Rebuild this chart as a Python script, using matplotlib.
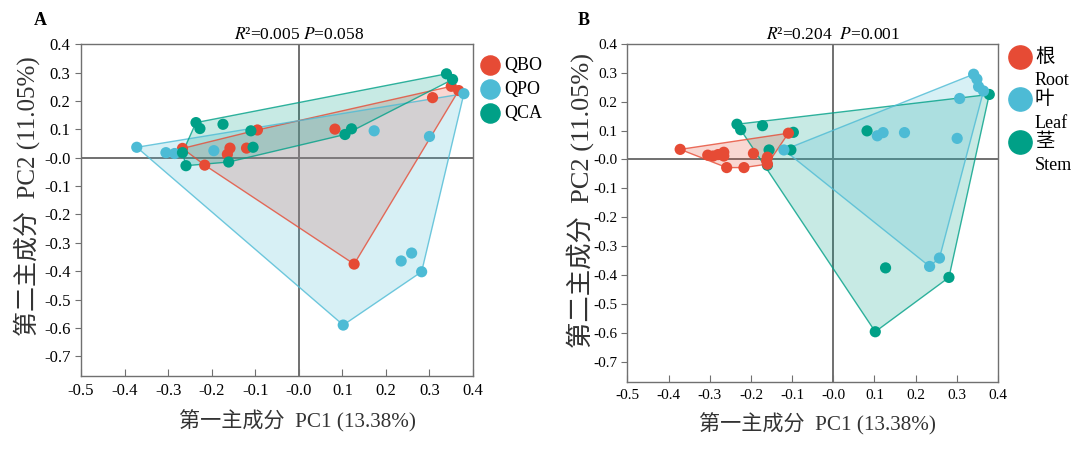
import numpy as np
import matplotlib
matplotlib.use("Agg")
import matplotlib.pyplot as plt
import matplotlib.transforms as mtransforms

plt.rcParams['font.family'] = ['Liberation Serif', 'Noto Sans CJK SC']
plt.rcParams['mathtext.fontset'] = 'stix'
plt.rcParams['axes.unicode_minus'] = False

# === Datos ===
# Panel A: por especie
a_qbo_x = [0.350, 0.367, 0.307, 0.083, -0.095, -0.158, -0.164, -0.120, -0.267, -0.216, 0.127]
a_qbo_y = [0.252, 0.237, 0.212, 0.101, 0.098, 0.034, 0.012, 0.034, 0.033, -0.026, -0.375]
a_qpo_x = [0.379, 0.173, 0.300, -0.372, -0.305, -0.285, -0.195, 0.235, 0.259, 0.282, 0.102]
a_qpo_y = [0.226, 0.095, 0.075, 0.037, 0.018, 0.015, 0.025, -0.364, -0.336, -0.402, -0.590]
a_qca_x = [0.339, 0.353, -0.236, -0.227, -0.174, -0.110, 0.121, 0.106, -0.105, -0.267, -0.259, -0.161]
a_qca_y = [0.296, 0.276, 0.124, 0.103, 0.118, 0.095, 0.102, 0.082, 0.037, 0.018, -0.028, -0.015]

# Panel B: por organo
b_root_x = [-0.372, -0.305, -0.292, -0.280, -0.266, -0.266, -0.259, -0.217, -0.194, -0.160, -0.160, -0.162, -0.109]
b_root_y = [0.035, 0.015, 0.012, 0.017, 0.025, 0.012, -0.028, -0.028, 0.021, 0.008, -0.016, -0.004, 0.091]
b_leaf_x = [0.341, 0.349, 0.353, 0.365, 0.307, 0.107, 0.121, 0.173, 0.301, -0.120, 0.234, 0.258]
b_leaf_y = [0.295, 0.278, 0.252, 0.237, 0.211, 0.082, 0.093, 0.093, 0.073, 0.033, -0.370, -0.341]
b_stem_x = [-0.234, -0.225, -0.172, -0.097, -0.156, -0.103, 0.082, 0.379, 0.127, 0.281, 0.102, -0.160]
b_stem_y = [0.122, 0.103, 0.117, 0.094, 0.033, 0.033, 0.099, 0.225, -0.375, -0.408, -0.596, -0.020]

labels_a = ['QBO', 'QPO', 'QCA']
labels_b_cn = ['根', '叶', '茎']
labels_b_en = ['Root', 'Leaf', 'Stem']
stats_a = r'$R$²=0.005 $P$=0.058'
stats_b = r'$R$²=0.204  $P$=0.001'
xlab = '第一主成分  PC1 (13.38%)'
ylab = '第二主成分  PC2 (11.05%)'

RED, BLUE, GREEN = '#E64B35', '#4DBBD5', '#00A087'
colors = [RED, BLUE, GREEN]


def hull(xs, ys):
    pts = sorted(set(zip(xs, ys)))

    def cross(o, a, b):
        return (a[0] - o[0]) * (b[1] - o[1]) - (a[1] - o[1]) * (b[0] - o[0])
    lower, upper = [], []
    for p in pts:
        while len(lower) >= 2 and cross(lower[-2], lower[-1], p) <= 0:
            lower.pop()
        lower.append(p)
    for p in reversed(pts):
        while len(upper) >= 2 and cross(upper[-2], upper[-1], p) <= 0:
            upper.pop()
        upper.append(p)
    return np.array(lower[:-1] + upper[:-1])


def setup(ax, stats, ysize, tsize):
    ax.set_xlim(-0.5, 0.4)
    ax.set_ylim(-0.77, 0.4)
    ax.set_xticks(np.arange(-0.5, 0.41, 0.1))
    ax.set_yticks(np.arange(-0.7, 0.41, 0.1))
    ax.xaxis.set_major_formatter(matplotlib.ticker.FormatStrFormatter('%.1f'))
    ax.yaxis.set_major_formatter(matplotlib.ticker.FormatStrFormatter('%.1f'))
    ax.tick_params(axis='x', direction='in', length=5, color='#707070', labelsize=tsize, pad=5)
    ax.tick_params(axis='y', direction='out', length=4, color='#707070', labelsize=tsize)
    for s in ax.spines.values():
        s.set_color('#707070')
        s.set_linewidth(1.0)
    ax.axhline(0, color='#707070', lw=1.4, zorder=1)
    ax.axvline(0, color='#707070', lw=1.4, zorder=1)
    ax.set_xlabel(xlab, fontsize=15.2, color='#333333', va='top')
    ax.set_ylabel(ylab, fontsize=ysize, color='#333333')
    trans = mtransforms.blended_transform_factory(ax.transData, ax.transAxes)
    ax.text(0, 1.003, stats, transform=trans, ha='center', va='bottom', fontsize=12.5)


def draw_groups(ax, groups):
    for (xs, ys), c in groups:
        h = hull(xs, ys)
        ax.fill(h[:, 0], h[:, 1], color=c, alpha=0.22, lw=0, zorder=2)
        ax.fill(h[:, 0], h[:, 1], fill=False, edgecolor=c, alpha=0.8, lw=1.0, zorder=3)
    for (xs, ys), c in groups:
        ax.scatter(xs, ys, s=65, color=c, edgecolors='none', zorder=4)


fig = plt.figure(figsize=(10.8, 4.57), dpi=100)
axA = fig.add_axes([0.075, 0.177, 0.363, 0.726])
axB = fig.add_axes([0.581, 0.164, 0.343, 0.740])

# === Panel A ===
setup(axA, stats_a, 18, 12)
axA.xaxis.set_label_coords(0.551, -0.102)
axA.yaxis.set_label_coords(-0.104, 0.542)
draw_groups(axA, [((a_qbo_x, a_qbo_y), RED), ((a_qpo_x, a_qpo_y), BLUE), ((a_qca_x, a_qca_y), GREEN)])
for i, (lab, c) in enumerate(zip(labels_a, colors)):
    yy = 0.937 - i * 0.072
    axA.scatter([1.043], [yy], s=190, color=c, transform=axA.transAxes, clip_on=False)
    axA.text(1.08, yy, lab, transform=axA.transAxes, va='center', ha='left', fontsize=13)

# === Panel B ===
setup(axB, stats_b, 19, 11)
axB.xaxis.set_label_coords(0.514, -0.092)
axB.yaxis.set_label_coords(-0.09, 0.536)
draw_groups(axB, [((b_stem_x, b_stem_y), GREEN), ((b_leaf_x, b_leaf_y), BLUE), ((b_root_x, b_root_y), RED)])
for i, (cn, en, c) in enumerate(zip(labels_b_cn, labels_b_en, colors)):
    yy = 0.962 - i * 0.126
    axB.scatter([1.059], [yy], s=280, color=c, transform=axB.transAxes, clip_on=False)
    axB.text(1.1, yy, cn, transform=axB.transAxes, va='center', ha='left', fontsize=14)
    axB.text(1.1, yy - 0.07, en, transform=axB.transAxes, va='center', ha='left', fontsize=13)

fig.text(0.031, 0.955, 'A', fontsize=13, fontweight='bold', va='center')
fig.text(0.535, 0.955, 'B', fontsize=13, fontweight='bold', va='center')

fig.savefig('out.png', dpi=100, facecolor='white')
